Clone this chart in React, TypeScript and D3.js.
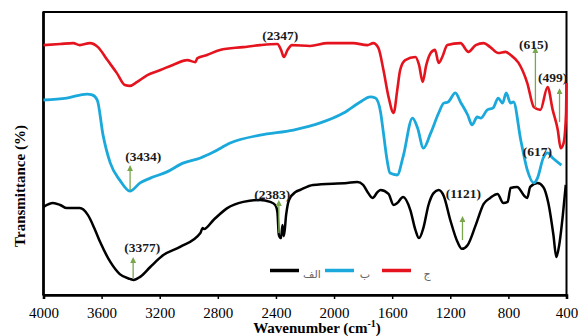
import React, { useEffect, useRef } from "react";
import * as d3 from "d3";

const xTicks = [4000, 3600, 3200, 2800, 2400, 2000, 1600, 1200, 800, 400];
const seriesNames = ["الف", "ب", "ج"];
const seriesColors = ["#000000", "#1ba9dc", "#e5131d"];

// sample الف (black)
const blackWn = [4000, 3935, 3885, 3840, 3750, 3695, 3645, 3610, 3540, 3475, 3405, 3380, 3335, 3265, 3175, 3060, 2920, 2905, 2895, 2830, 2735, 2625, 2510, 2440, 2405, 2390, 2380, 2365, 2355, 2345, 2330, 2310, 2265, 2235, 2145, 1910, 1840, 1800, 1765, 1735, 1700, 1680, 1625, 1590, 1565, 1525, 1475, 1440, 1415, 1385, 1350, 1315, 1280, 1245, 1200, 1150, 1120, 1080, 1025, 970, 925, 875, 835, 805, 785, 740, 690, 670, 650, 600, 560, 525, 490, 470, 450, 425, 405];
const blackT = [31.1, 32.5, 31.8, 30.7, 30.7, 28.3, 23.0, 18.7, 11.7, 7.4, 5.7, 5.3, 6.4, 9.9, 14.1, 17.0, 21.9, 23.7, 23.3, 26.5, 30.7, 32.9, 33.6, 32.9, 31.8, 29.3, 21.2, 20.1, 24.7, 20.8, 28.3, 33.6, 36.4, 37.1, 38.9, 39.6, 39.9, 38.9, 36.0, 34.3, 36.4, 37.1, 35.7, 31.8, 32.5, 34.6, 30.0, 23.0, 20.1, 23.7, 31.8, 36.0, 37.1, 35.0, 26.5, 18.7, 16.3, 17.7, 24.7, 32.2, 34.3, 35.7, 32.5, 32.9, 37.8, 38.2, 35.0, 34.3, 38.2, 39.6, 38.2, 32.5, 21.2, 13.4, 17.7, 28.3, 38.9];

// sample ب (blue)
const blueWn = [4000, 3840, 3700, 3665, 3630, 3590, 3540, 3475, 3405, 3335, 3265, 3150, 3040, 2920, 2830, 2715, 2510, 2280, 2095, 1935, 1820, 1750, 1715, 1680, 1660, 1635, 1615, 1565, 1525, 1460, 1425, 1385, 1335, 1280, 1245, 1215, 1165, 1130, 1080, 1050, 1015, 990, 945, 905, 870, 840, 815, 785, 765, 715, 670, 625, 600, 560, 530, 495, 435];
const blueT = [68.9, 69.6, 71.0, 70.7, 68.9, 56.5, 46.6, 40.6, 36.7, 39.6, 41.3, 43.5, 46.6, 48.4, 50.5, 53.7, 56.5, 58.3, 60.8, 64.3, 68.2, 70.0, 69.6, 64.7, 57.2, 47.7, 43.1, 42.4, 48.8, 62.5, 59.0, 51.9, 57.2, 64.3, 67.8, 68.2, 71.4, 68.2, 63.6, 60.1, 62.9, 62.5, 65.4, 66.1, 69.6, 67.8, 71.4, 67.8, 68.2, 54.8, 44.2, 39.6, 41.3, 48.4, 50.2, 48.4, 45.9];

// sample ج (red)
const redWn = [4000, 3885, 3795, 3750, 3680, 3625, 3560, 3495, 3440, 3405, 3355, 3285, 3195, 3110, 3010, 2955, 2940, 2875, 2785, 2625, 2510, 2390, 2365, 2345, 2320, 2290, 2165, 2045, 1870, 1770, 1730, 1695, 1660, 1625, 1590, 1565, 1545, 1510, 1440, 1415, 1390, 1365, 1335, 1305, 1280, 1255, 1220, 1130, 1075, 1025, 970, 925, 870, 820, 785, 730, 670, 625, 580, 530, 495, 460, 440, 420, 403, 400];
const redT = [88.3, 88.7, 89.0, 88.3, 89.0, 87.6, 83.0, 78.4, 74.2, 73.9, 75.3, 77.7, 79.5, 81.3, 83.0, 82.3, 83.7, 84.8, 86.6, 87.6, 88.3, 88.7, 86.6, 84.1, 86.6, 88.3, 88.0, 89.0, 89.0, 88.3, 89.0, 87.3, 79.5, 70.0, 64.3, 72.4, 79.5, 83.0, 84.1, 81.3, 75.3, 81.3, 85.5, 86.6, 82.0, 84.1, 88.3, 89.0, 85.9, 88.3, 89.0, 87.6, 85.5, 85.9, 84.8, 82.0, 74.9, 66.4, 65.4, 73.5, 65.4, 58.3, 51.9, 53.7, 64.3, 74.9];

// peak labels and their arrows (wavenumber / transmittance units)
const peakLabels = ["(3434)", "(3377)", "(2383)", "(2347)", "(1121)", "(615)", "(499)", "(617)"];
const peakLabelWn = [3314, 3321, 2426, 2370, 1110, 627, 496, 600];
const peakLabelT = [47.3, 15.2, 33.9, 90.1, 34.3, 86.9, 75.3, 49.1];
const arrowWn = [3404, 3383, 2380, null, 1116, 614, 448, null];
const arrowFrom = [37.1, 6.0, 21.9, null, 19.4, 66.1, 61.1, null];
const arrowTo = [45.9, 13.4, 33.6, null, 27.9, 87.6, 73.1, null];

const App = () => {
  const svgRef = useRef<SVGSVGElement>(null);
  const width = 580;
  const height = 336;
  const left = 43.5, right = 566.5, top = 12, bottom = 295;
  const serif = "'Liberation Serif', 'Times New Roman', serif";

  useEffect(() => {
    const svg = d3.select(svgRef.current);
    svg.selectAll("*").remove();

    const x = d3.scaleLinear().domain([4000, 400]).range([left, right]);
    const y = d3.scaleLinear().domain([0, 100]).range([bottom, top]);

    svg.append("defs").append("marker")
      .attr("id", "arrowHead")
      .attr("viewBox", "0 0 10 10")
      .attr("refX", 5).attr("refY", 5)
      .attr("markerWidth", 6).attr("markerHeight", 6)
      .attr("markerUnits", "userSpaceOnUse")
      .attr("orient", "auto")
      .append("path")
      .attr("d", "M0,0 L10,5 L0,10 Z")
      .attr("fill", "#7aa64c");

    // frame
    svg.append("rect")
      .attr("x", left).attr("y", top)
      .attr("width", right - left).attr("height", bottom - top)
      .attr("fill", "none").attr("stroke", "#000").attr("stroke-width", 2);
    svg.append("line").attr("x1", left).attr("x2", left).attr("y1", top).attr("y2", bottom)
      .attr("stroke", "#000").attr("stroke-width", 2.6);

    const xAxis = d3.axisBottom(x).tickValues(xTicks).tickSize(4).tickPadding(8).tickFormat(d3.format("d"));
    const gx = svg.append("g").attr("transform", `translate(0,${bottom})`).call(xAxis);
    gx.select(".domain").attr("stroke-width", 2.6);
    gx.selectAll(".tick line").attr("stroke-width", 1.5);
    gx.selectAll("text").attr("font-family", serif).attr("font-size", 15).attr("fill", "#000");

    const line = d3.line<[number, number]>()
      .x(d => x(d[0]))
      .y(d => y(d[1]))
      .curve(d3.curveMonotoneX);

    const series = [
      { wn: blackWn, t: blackT, w: 2.5 },
      { wn: blueWn, t: blueT, w: 2.8 },
      { wn: redWn, t: redT, w: 2.6 },
    ];
    series.forEach((s, i) => {
      const pts = s.wn.map((w, j) => [w, s.t[j]] as [number, number]);
      svg.append("path")
        .attr("d", line(pts))
        .attr("fill", "none")
        .attr("stroke", seriesColors[i])
        .attr("stroke-width", s.w)
        .attr("stroke-linejoin", "round");
    });

    // arrows + peak labels
    peakLabels.forEach((lab, i) => {
      const aw = arrowWn[i];
      if (aw != null) {
        svg.append("line")
          .attr("x1", x(aw)).attr("x2", x(aw))
          .attr("y1", y(arrowFrom[i] as number)).attr("y2", y(arrowTo[i] as number) + 3)
          .attr("stroke", "#7aa64c").attr("stroke-width", 1.3)
          .attr("marker-end", "url(#arrowHead)");
      }
      svg.append("text")
        .attr("x", x(peakLabelWn[i])).attr("y", y(peakLabelT[i]))
        .attr("text-anchor", "middle")
        .attr("font-family", serif).attr("font-weight", "bold").attr("font-size", 13.5)
        .attr("fill", "#1a1a1a")
        .text(lab);
    });

    // legend
    const legendLineX = [270, 325, 382];
    const legendTextX = [312, 365, 427];
    seriesNames.forEach((name, i) => {
      svg.append("line")
        .attr("x1", legendLineX[i]).attr("x2", legendLineX[i] + 29)
        .attr("y1", 270.5).attr("y2", 270.5)
        .attr("stroke", seriesColors[i]).attr("stroke-width", 3.5);
      svg.append("text")
        .attr("x", legendTextX[i]).attr("y", 278)
        .attr("text-anchor", "middle")
        .attr("font-family", "'DejaVu Sans', sans-serif").attr("font-size", 11)
        .attr("fill", "#666")
        .text(name);
    });

    // axis titles
    svg.append("text")
      .attr("transform", "translate(25,186) rotate(-90)")
      .attr("text-anchor", "middle")
      .attr("font-family", serif).attr("font-weight", "bold").attr("font-size", 15)
      .text("Transmittance (%)");

    const xt = svg.append("text")
      .attr("x", 317).attr("y", 333)
      .attr("text-anchor", "middle")
      .attr("font-family", serif).attr("font-weight", "bold").attr("font-size", 15);
    xt.append("tspan").text("Wavenumber (cm");
    xt.append("tspan").attr("dy", -6).attr("font-size", 10).text("-1");
    xt.append("tspan").attr("dy", 6).text(")");
  }, []);

  return (
    <svg ref={svgRef} width={width} height={height}
      style={{ position: "absolute", left: 0, top: 0, background: "#fff" }} />
  );
};

export default App;
